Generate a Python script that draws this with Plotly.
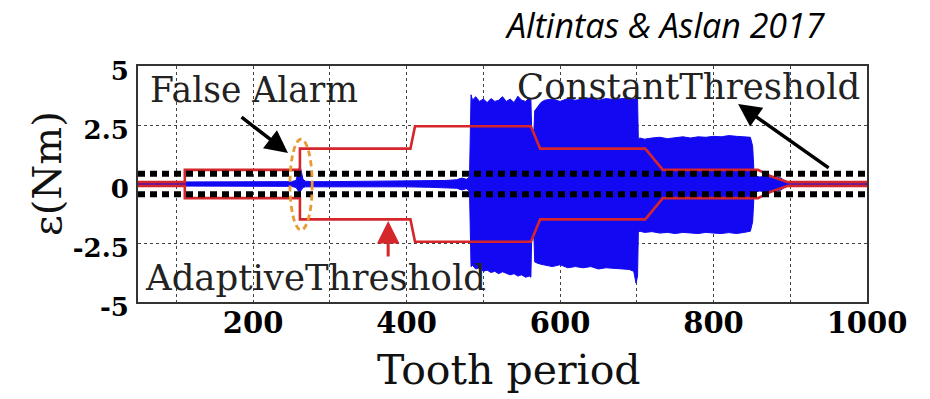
import plotly.graph_objects as go

# ---------------- data ----------------
# envelope of the measured residual torque signal epsilon (Nm)
sig_x = [50, 100, 150, 200, 250, 256, 259, 261, 263, 265, 268, 275, 300, 350, 400, 430,
         450, 465, 472, 478, 482, 484, 486, 490, 495, 500, 505, 510, 515, 520, 525, 530,
         535, 540, 545, 550, 555, 560, 562, 563, 566, 567, 570, 575, 580, 590, 600, 610,
         620, 630, 640, 650, 660, 670, 680, 690, 696, 699, 701, 702, 704, 710, 720, 730,
         740, 750, 760, 770, 780, 790, 800, 810, 820, 830, 840, 848, 851, 853, 860, 870,
         880, 888, 893, 897, 900, 1000]
sig_up = [0.08, 0.09, 0.08, 0.1, 0.1, 0.15, 0.6, 0.8, 0.5, 0.2, 0.12, 0.1, 0.1, 0.12, 0.12, 0.14,
          0.15, 0.18, 0.25, 0.2, 0.3, 3.78, 3.55, 3.7, 3.5, 3.6, 3.45, 3.62, 3.5, 3.55, 3.7, 3.5,
          3.6, 3.45, 3.72, 3.55, 3.5, 3.65, 3.6, 2.3, 2.3, 3.1, 3.25, 3.45, 3.55, 3.6, 3.5, 3.62,
          3.55, 3.6, 3.65, 3.55, 3.62, 3.58, 3.6, 3.65, 3.6, 3.62, 3.6, 1.9, 1.95, 1.9, 1.95, 1.98,
          1.92, 1.96, 2.0, 1.95, 2.0, 1.98, 2.02, 2.0, 2.05, 2.02, 2.0, 1.98, 1.6, 0.35, 0.3, 0.32,
          0.3, 0.25, 0.12, 0.05, 0.03, 0.03]
sig_lo = [-0.08, -0.09, -0.08, -0.1, -0.1, -0.15, -0.3, -0.35, -0.25, -0.15, -0.12, -0.1, -0.1, -0.12, -0.12, -0.14,
          -0.15, -0.18, -0.25, -0.2, -0.3, -3.5, -3.45, -3.6, -3.55, -3.7, -3.65, -3.75, -3.7, -3.8, -3.72, -3.78,
          -3.85, -3.8, -3.9, -3.85, -3.95, -3.9, -3.95, -2.3, -2.3, -3.3, -3.35, -3.4, -3.45, -3.5, -3.42, -3.55,
          -3.5, -3.55, -3.5, -3.6, -3.55, -3.58, -3.6, -3.62, -3.7, -4.2, -3.9, -2.05, -2.0, -2.05, -2.02, -2.08,
          -2.05, -2.1, -2.05, -2.08, -2.1, -2.05, -2.08, -2.1, -2.06, -2.1, -2.05, -2.0, -1.6, -0.35, -0.3, -0.32,
          -0.3, -0.25, -0.12, -0.05, -0.03, -0.03]

# adaptive threshold (upper; lower is the mirror image)
thr_x = [50, 111, 111, 261, 261, 405, 411, 562, 574, 711, 734, 858, 873, 897, 1000]
thr_up = [0.08, 0.08, 0.6, 0.6, 1.5, 1.5, 2.45, 2.45, 1.5, 1.5, 0.6, 0.6, 0.35, 0.08, 0.08]
thr_lo = [-v for v in thr_up]

# constant threshold
const_x = [50, 1000]
const_level = 0.43

# false-alarm marker (ellipse bounds)
fa_x0, fa_x1, fa_y0, fa_y1 = 248, 277, -1.95, 1.9

x_ticks = [200, 400, 600, 800, 1000]
y_ticks = [-5, -2.5, 0, 2.5, 5]
y_ticktext = ["-5", "-2.5", "0", "2.5", "5"]

# ---------------- figure ----------------
SERIF = "DejaVu Serif"
BLUE = "#1208f2"
RED = "#d4262b"
fig = go.Figure()

# signal band
fig.add_trace(go.Scatter(
    x=sig_x + sig_x[::-1], y=sig_up + sig_lo[::-1],
    fill="toself", fillcolor=BLUE, mode="lines",
    line=dict(color=BLUE, width=1), hoverinfo="skip", showlegend=False))

# adaptive thresholds
for ys in (thr_up, thr_lo):
    fig.add_trace(go.Scatter(x=thr_x, y=ys, mode="lines",
                             line=dict(color=RED, width=2.6), showlegend=False))

# constant thresholds
for s in (1, -1):
    fig.add_trace(go.Scatter(x=const_x, y=[s * const_level] * len(const_x), mode="lines",
                             line=dict(color="black", width=6, dash="7px,5px"),
                             showlegend=False))

# false alarm ellipse
fig.add_shape(type="circle", xref="x", yref="y", x0=fa_x0, x1=fa_x1, y0=fa_y0, y1=fa_y1,
              line=dict(color="#e89a34", width=2.8, dash="6px,4px"))

grid = dict(showgrid=True, gridcolor="#444", gridwidth=1, griddash="dot")
fig.update_xaxes(range=[50, 1000], tickvals=x_ticks, ticktext=[str(v) for v in x_ticks],
                 tickfont=dict(family=SERIF, size=29, color="black", weight="bold"),
                 showline=True, linecolor="#333", linewidth=2, mirror=True,
                 ticks="", ticklen=0, zeroline=False, ticklabelstandoff=-6,
                 minor=dict(dtick=100, tick0=0, showgrid=True, gridcolor="#444",
                            griddash="dot", gridwidth=1),
                 **grid)
fig.update_yaxes(range=[-5, 5], tickvals=y_ticks, ticktext=y_ticktext,
                 tickfont=dict(family=SERIF, size=26, color="black", weight="bold"),
                 showline=True, linecolor="#333", linewidth=2, mirror=True,
                 ticks="", ticklen=0, zeroline=False, ticklabelshift=5, ticklabelstandoff=2,
                 **grid)

ann = []
# text labels
ann.append(dict(x=63, y=3.98, xref="x", yref="y", text="False Alarm", showarrow=False,
                xanchor="left", yanchor="middle",
                font=dict(family=SERIF, size=34.5, color="#222")))
ann.append(dict(x=56, y=-3.95, xref="x", yref="y", text="AdaptiveThreshold", showarrow=False,
                xanchor="left", yanchor="middle",
                font=dict(family=SERIF, size=35.5, color="#222")))
ann.append(dict(x=541, y=4.15, xref="x", yref="y", text="ConstantThreshold", showarrow=False,
                xanchor="left", yanchor="middle",
                font=dict(family=SERIF, size=35.5, color="#222")))
# arrows
ann.append(dict(x=245.5, y=1.31, ax=183, ay=2.88, xref="x", yref="y", axref="x", ayref="y",
                text="", showarrow=True, arrowhead=2, arrowsize=1.3, arrowwidth=3.5,
                arrowcolor="black"))
ann.append(dict(x=376, y=-1.57, ax=376, ay=-3.14, xref="x", yref="y", axref="x", ayref="y",
                text="", showarrow=True, arrowhead=2, arrowsize=1.5, arrowwidth=3,
                arrowcolor=RED))
ann.append(dict(x=832, y=3.39, ax=952, ay=0.64, xref="x", yref="y", axref="x", ayref="y",
                text="", showarrow=True, arrowhead=2, arrowsize=1.3, arrowwidth=3.5,
                arrowcolor="black"))
# titles (positions in page pixels; plot area spans x 138..867, y 66..302)
ann.append(dict(x=(503 - 138) / 729, y=1 + (66 - 25) / 236, xref="paper", yref="paper",
                text="<i>Altintas &amp; Aslan 2017</i>", showarrow=False,
                xanchor="left", yanchor="middle",
                font=dict(family="Open Sans", size=34, color="black")))
ann.append(dict(x=(47 - 138) / 729, y=(302 - 174) / 236, xref="paper", yref="paper",
                text="ε(Nm)", textangle=-90, showarrow=False,
                xanchor="center", yanchor="middle",
                font=dict(family=SERIF, size=40, color="#111")))
ann.append(dict(x=(509 - 138) / 729, y=(302 - 370) / 236, xref="paper", yref="paper",
                text="Tooth period", showarrow=False,
                xanchor="center", yanchor="middle",
                font=dict(family=SERIF, size=41, color="#111")))

fig.update_layout(
    width=930, height=399,
    margin=dict(l=138, r=63, t=66, b=97),
    paper_bgcolor="white", plot_bgcolor="white",
    showlegend=False, annotations=ann,
)

# remove the default 8 px page margin so the figure fills the window exactly
fig.write_html("out.html", config={"displayModeBar": False},
               post_script="document.body.style.margin='0px';")
